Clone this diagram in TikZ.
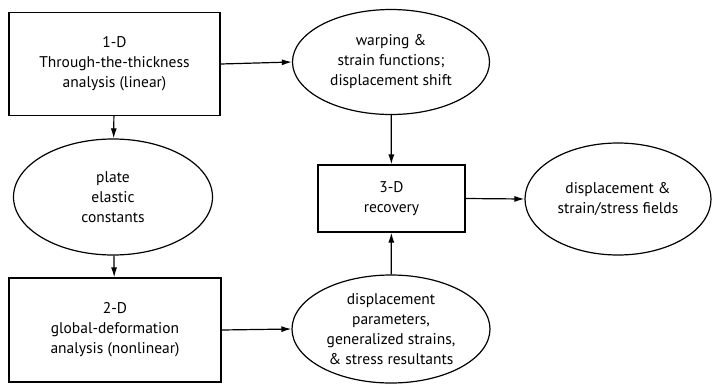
\documentclass[tikz,border=0pt]{standalone}
\usepackage{fontspec}
\setmainfont{PT Sans}
\usetikzlibrary{arrows.meta, shapes.geometric}

\tikzset{
  stage/.style={draw, line width=1.2pt, rectangle, align=center, inner sep=0pt},
  result/.style={draw, line width=1.2pt, ellipse, align=center, inner sep=0pt},
  flow/.style={-{Latex[length=10pt, width=6pt]}, line width=1.2pt}
}

\begin{document}
\begin{tikzpicture}[x=1pt, y=-1pt, font=\fontsize{15.5}{20}\selectfont]
    \useasboundingbox (0,0) rectangle (712,384);
    % boxes
    \node[stage, minimum width=211pt, minimum height=103pt] (oned) at (114.5,64) {1-D\\Through-the-thickness\\analysis (linear)};
    \node[stage, minimum width=212pt, minimum height=104pt] (twod) at (115,330) {2-D\\global-deformation\\analysis (nonlinear)};
    \node[stage, minimum width=147pt, minimum height=67pt] (threed) at (391.5,198.5) {3-D\\recovery};
    % ellipses
    \node[result, minimum width=199pt, minimum height=116pt] (plate) at (113,197) {plate\\elastic\\constants};
    \node[result, minimum width=197pt, minimum height=105pt] (warp) at (391,62) {warping \&\\strain functions;\\displacement shift};
    \node[result, minimum width=186pt, minimum height=112pt] (field) at (618,199) {displacement \&\\strain/stress fields};
    \node[result, minimum width=198pt, minimum height=108pt] (param) at (391,329) {displacement\\parameters,\\generalized strains,\\\& stress resultants};
    % connectors
    \draw[flow] (oned) -- (plate);
    \draw[flow] (plate) -- (twod);
    \draw[flow] (oned.east) -- (warp.west);
    \draw[flow] (twod.east) -- (param.west);
    \draw[flow] (warp) -- (threed);
    \draw[flow] (param) -- (threed);
    \draw[flow] (threed.east) -- (field.west);
\end{tikzpicture}
\end{document}
